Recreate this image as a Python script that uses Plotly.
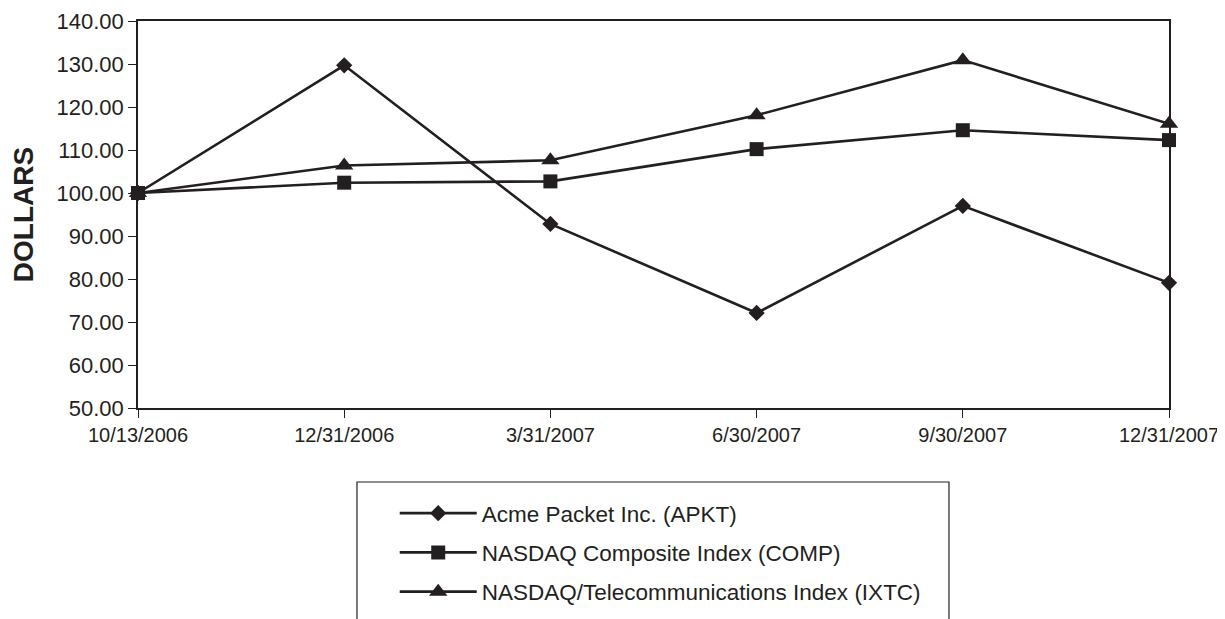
import plotly.graph_objects as go

dates = ["10/13/2006", "12/31/2006", "3/31/2007", "6/30/2007", "9/30/2007", "12/31/2007"]
apkt = [100.00, 129.70, 92.80, 72.10, 97.00, 79.10]
comp = [100.00, 102.40, 102.70, 110.20, 114.60, 112.30]
ixtc = [100.00, 106.40, 107.60, 118.10, 130.90, 116.10]
names = ["Acme Packet Inc. (APKT)", "NASDAQ Composite Index (COMP)",
         "NASDAQ/Telecommunications Index (IXTC)"]
y_ticks = [50, 60, 70, 80, 90, 100, 110, 120, 130, 140]

ink = "#231f20"
font = "Liberation Sans, Arial, sans-serif"

fig = go.Figure()
for i, (vals, name, sym, size) in enumerate([(apkt, names[0], "diamond", 12.5),
                                             (comp, names[1], "square", 14),
                                             (ixtc, names[2], "triangle-up", 16)]):
    fig.add_trace(go.Scatter(
        x=dates, y=vals, name=name, mode="lines+markers", legendgroup=f"g{i}",
        line=dict(color=ink, width=2.6),
        marker=dict(symbol=sym, size=size, color=ink),
        cliponaxis=False,
    ))

fig.update_layout(
    width=1217, height=619,
    margin=dict(l=130, r=56, t=13, b=219),
    paper_bgcolor="white", plot_bgcolor="white",
    font=dict(family=font, size=20, color=ink),
    showlegend=True,
    legend=dict(x=0.249, y=-0.2171, xanchor="left", yanchor="top",
                bgcolor="rgba(0,0,0,0)", borderwidth=0,
                font=dict(size=22.5, family=font, color=ink),
                tracegroupgap=7, itemwidth=77),
    shapes=[dict(type="rect", xref="paper", yref="paper",
                 x0=0.2124, x1=0.7866, y0=-0.1912, y1=-0.65,
                 line=dict(color=ink, width=1.2), fillcolor="rgba(0,0,0,0)")],
)
fig.update_xaxes(
    type="category", showgrid=False, showline=True, linecolor=ink, linewidth=1.5,
    mirror=True, ticks="outside", ticklen=8, tickcolor=ink, tickwidth=1,
    range=[0, 5], tickfont=dict(size=20), automargin=False,
)
fig.update_yaxes(
    range=[50, 140], tickvals=y_ticks, tickformat=".2f", showgrid=False,
    showline=True, linecolor=ink, linewidth=1.5, mirror=True,
    ticks="outside", ticklen=8, tickcolor=ink, tickwidth=1,
    tickfont=dict(size=22), automargin=False,
    title=dict(text="<b>DOLLARS</b>", font=dict(size=28), standoff=16),
)

fig.write_html("out.html")
